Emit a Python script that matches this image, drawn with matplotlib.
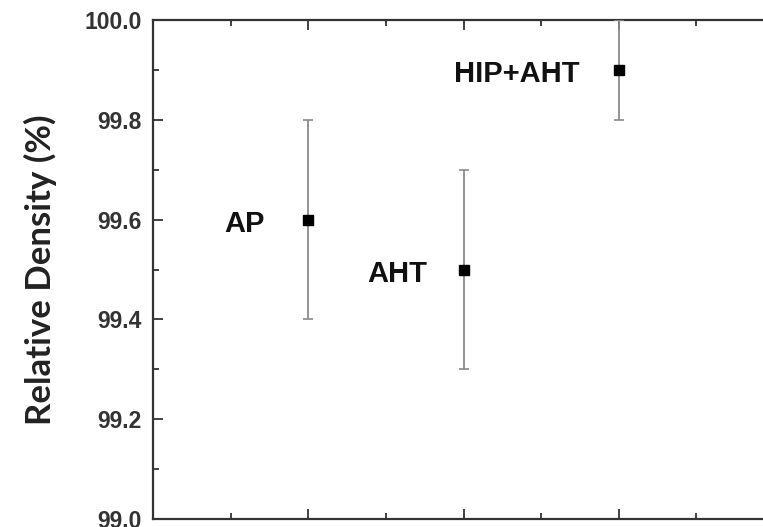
import matplotlib
matplotlib.use("Agg")
import matplotlib.pyplot as plt
from matplotlib.ticker import MultipleLocator, FormatStrFormatter, NullFormatter
from matplotlib.transforms import offset_copy

# Data
categories = ["AP", "AHT", "HIP+AHT"]
x_pos = [1, 2, 3]
density = [99.6, 99.5, 99.9]
errors = [0.2, 0.2, 0.1]
y_ticks = [99.0, 99.2, 99.4, 99.6, 99.8, 100.0]

# label offsets in data units (x) relative to point
label_dx = [-0.414, -0.429, -0.656]

fig = plt.figure(figsize=(7.63, 5.27), dpi=100)
ax = fig.add_axes([153 / 763, 8 / 527, 621 / 763, 499 / 527])

ax.errorbar(x_pos, density, yerr=errors, fmt="s", color="black", markersize=7.5,
            ecolor="#8a8a8a", elinewidth=1.3, capsize=3.5, capthick=1.2, zorder=3)

tr = offset_copy(ax.transData, fig=fig, x=0, y=-3, units="points")
for xi, yi, lab, dx in zip(x_pos, density, categories, label_dx):
    ax.text(xi + dx, yi, lab, ha="center", va="center", fontsize=21,
            fontweight="bold", family="Liberation Sans", color="#111111",
            transform=tr)

ax.set_xlim(0, 4)
ax.set_ylim(99.0, 100.0)
ax.set_yticks(y_ticks)
ax.yaxis.set_major_formatter(FormatStrFormatter("%.1f"))
ax.yaxis.set_minor_locator(MultipleLocator(0.1))
ax.xaxis.set_major_locator(MultipleLocator(1))
ax.xaxis.set_minor_locator(MultipleLocator(0.5))
ax.xaxis.set_major_formatter(NullFormatter())

ax.tick_params(which="both", direction="in", top=True, right=True,
               color="#333333", width=1.3)
ax.tick_params(which="major", length=7)
ax.tick_params(which="minor", length=4)
ax.tick_params(axis="y", which="major", pad=8, labelsize=16.5, labelcolor="#333333")
for lbl in ax.get_yticklabels():
    lbl.set_fontweight("bold")
    lbl.set_family("Liberation Sans")

for sp in ax.spines.values():
    sp.set_linewidth(1.6)
    sp.set_color("#333333")

ax.set_ylabel("Relative Density (%)", fontsize=25, fontweight="bold",
              family="Lato", color="#222222", labelpad=20)

fig.savefig("out.png", dpi=100)
